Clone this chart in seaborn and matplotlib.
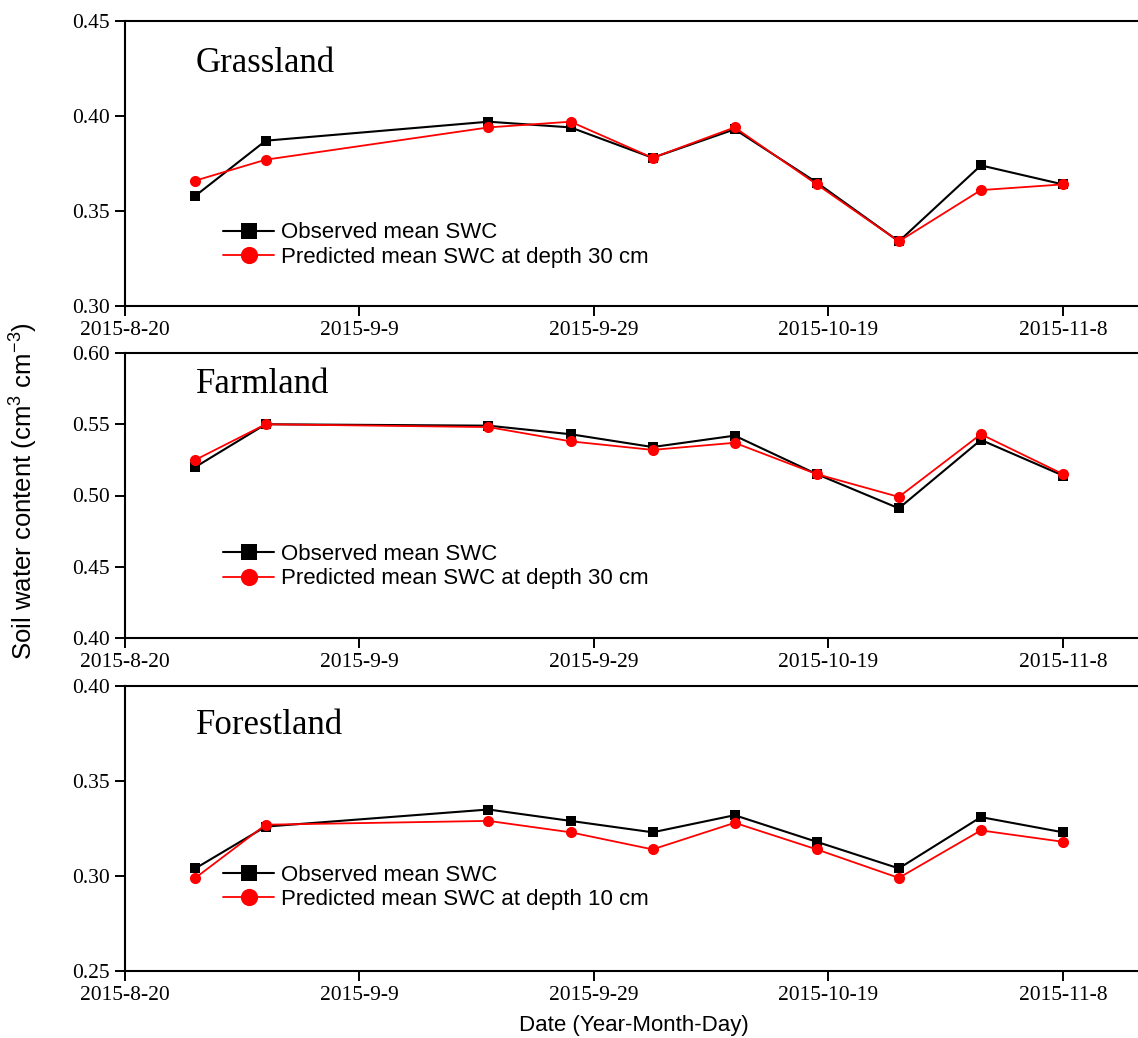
import matplotlib
matplotlib.use("Agg")
import matplotlib.pyplot as plt
import seaborn as sns
import pandas as pd

# sampling dates
dates = ["2015-08-26", "2015-09-01", "2015-09-20", "2015-09-27", "2015-10-04",
         "2015-10-11", "2015-10-18", "2015-10-25", "2015-11-01", "2015-11-08"]

grass_obs = [0.358, 0.387, 0.397, 0.394, 0.378, 0.393, 0.365, 0.334, 0.374, 0.364]
grass_pred = [0.366, 0.377, 0.394, 0.397, 0.378, 0.394, 0.364, 0.334, 0.361, 0.364]
farm_obs = [0.520, 0.550, 0.549, 0.543, 0.534, 0.542, 0.515, 0.491, 0.539, 0.514]
farm_pred = [0.525, 0.550, 0.548, 0.538, 0.532, 0.537, 0.515, 0.499, 0.543, 0.515]
forest_obs = [0.304, 0.326, 0.335, 0.329, 0.323, 0.332, 0.318, 0.304, 0.331, 0.323]
forest_pred = [0.299, 0.327, 0.329, 0.323, 0.314, 0.328, 0.314, 0.299, 0.324, 0.318]

panel_names = ["Grassland", "Farmland", "Forestland"]
obs_label = "Observed mean SWC"
pred_labels = ["Predicted mean SWC at depth 30 cm",
               "Predicted mean SWC at depth 30 cm",
               "Predicted mean SWC at depth 10 cm"]
y_limits = [(0.30, 0.45), (0.40, 0.60), (0.25, 0.40)]
y_ticks = [[0.30, 0.35, 0.40, 0.45],
           [0.40, 0.45, 0.50, 0.55, 0.60],
           [0.25, 0.30, 0.35, 0.40]]
tick_dates = ["2015-08-20", "2015-09-09", "2015-09-29", "2015-10-19", "2015-11-08"]
tick_labels = ["2015-8-20", "2015-9-9", "2015-9-29", "2015-10-19", "2015-11-8"]

sns.set_style("ticks")
plt.rcParams["font.family"] = ["Liberation Serif", "DejaVu Serif"]
plt.rcParams["mathtext.fontset"] = "custom"
plt.rcParams["mathtext.rm"] = "Liberation Sans"
for k in ["text.color", "axes.labelcolor", "xtick.color", "ytick.color", "axes.edgecolor"]:
    plt.rcParams[k] = "black"

x = pd.to_datetime(dates)
series = [(grass_obs, grass_pred), (farm_obs, farm_pred), (forest_obs, forest_pred)]

fig = plt.figure(figsize=(11.38, 10.38), dpi=100)

left = 125 / 1138
bottoms = [1 - 306 / 1038, 1 - 638 / 1038, 1 - 971 / 1038]
height = 285 / 1038
legend_y = [0.214, 0.25, 0.294]
title_y = [0.85, 0.89, 0.86]
x_start = pd.Timestamp("2015-08-20")
x_end = x_start + pd.Timedelta(days=86.4)

for i in range(3):
    ax = fig.add_axes([left, bottoms[i], 1 - left, height])
    obs, pred = series[i]
    sns.lineplot(x=x, y=obs, ax=ax, color="black", marker="s", markersize=7.5,
                 markeredgewidth=0, linewidth=1.5, label=obs_label, zorder=2)
    sns.lineplot(x=x, y=pred, ax=ax, color="red", marker="o", markersize=8,
                 markeredgewidth=0, linewidth=1.3, label=pred_labels[i], zorder=3)

    ax.set_xlim(x_start, x_end)
    ax.set_ylim(*y_limits[i])
    ax.set_yticks(y_ticks[i])
    ax.set_yticklabels([f"{t:.2f}" for t in y_ticks[i]])
    ax.set_xticks(pd.to_datetime(tick_dates))
    ax.set_xticklabels(tick_labels)
    ax.set_xlabel("")
    ax.set_ylabel("")
    ax.tick_params(axis="both", direction="out", length=7, width=1.4,
                   labelsize=15.5, pad=4)
    ax.spines["right"].set_visible(False)
    for s in ["left", "top", "bottom"]:
        ax.spines[s].set_linewidth(1.5)

    ax.text(0.07, title_y[i], panel_names[i], transform=ax.transAxes,
            fontsize=25, va="center", ha="left")

    ax.legend(loc="center left", bbox_to_anchor=(0.097, legend_y[i]),
              frameon=False, markerscale=1.55, handlelength=2.3,
              handletextpad=0.3, labelspacing=0.15, borderpad=0, borderaxespad=0,
              prop={"family": "Liberation Sans", "size": 16})

fig.text(0.02, 0.527, "Soil water content (cm$^{3}$ cm$^{-3}$)", rotation=90,
         ha="center", va="center", fontsize=18.5, family="Liberation Sans")
fig.text(0.557, 0.0125, "Date (Year-Month-Day)", ha="center", va="center",
         fontsize=16, family="Liberation Sans")

fig.savefig("out.png", dpi=100)
